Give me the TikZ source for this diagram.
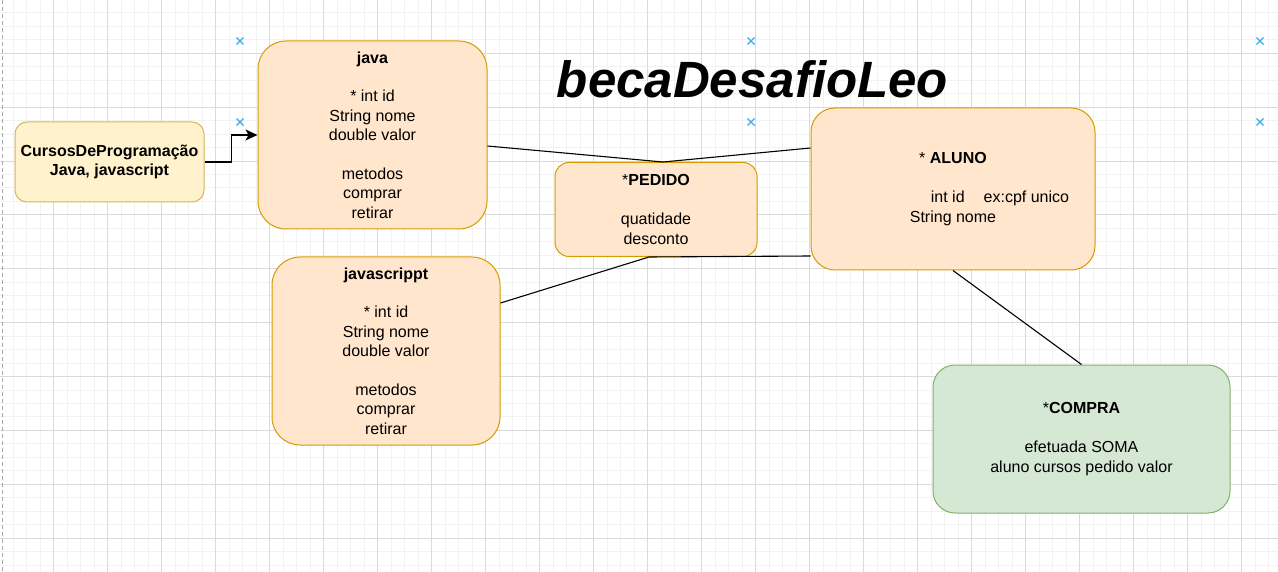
\documentclass[tikz,border=0pt]{standalone}
\usepackage{fontspec}
\setmainfont{Liberation Sans}
\usetikzlibrary{arrows.meta}
\definecolor{orfill}{HTML}{FFE6CC}
\definecolor{orline}{HTML}{D79B00}
\definecolor{yefill}{HTML}{FFF2CC}
\definecolor{yeline}{HTML}{D6B656}
\definecolor{grfill}{HTML}{D5E8D4}
\definecolor{grline}{HTML}{82B366}
\definecolor{gridminor}{HTML}{F2F2F2}
\definecolor{gridmajor}{HTML}{DADADA}
\definecolor{markblue}{HTML}{35AEEF}
\begin{document}
\begin{tikzpicture}[x=1pt,y=-1pt,
  box/.style={draw, line width=1pt, align=center, inner sep=0pt,
    font=\fontsize{16}{19.4}\selectfont},
  orbox/.style={box, fill=orfill, draw=orline},
  conn/.style={draw=black, line width=1.1pt},
  bluemark/.style={draw=markblue, line width=1.2pt},
  minorline/.style={draw=gridminor, line width=1pt},
  majorline/.style={draw=gridmajor, line width=1pt}]
\useasboundingbox (0,0) rectangle (1278,572);
\fill[white] (0,0) rectangle (1278,572);
% grid
\foreach \i in {0,...,95} {
  \draw[minorline] ({\i*13.5-0.5},0) -- ({\i*13.5-0.5},572);
}
\foreach \i in {0,...,43} {
  \draw[minorline] (0,{\i*13.47-0.6}) -- (1278,{\i*13.47-0.6});
}
\foreach \i in {0,...,24} {
  \draw[majorline] ({\i*54-0.5},0) -- ({\i*54-0.5},572);
}
\foreach \i in {0,...,11} {
  \draw[majorline] (0,{\i*53.88-0.6}) -- (1278,{\i*53.88-0.6});
}
\draw[draw=gray!70, line width=1pt, dash pattern=on 4pt off 3pt] (2,0) -- (2,572);
% blue markers
\foreach \mx/\my in {240/41, 751/41, 1260/41, 240/122, 751/122, 1260/122} {
  \draw[bluemark] (\mx-3.5,\my-3.5) -- (\mx+3.5,\my+3.5);
  \draw[bluemark] (\mx-3.5,\my+3.5) -- (\mx+3.5,\my-3.5);
}
% title
\node[anchor=base, font=\fontsize{51}{60}\selectfont\bfseries\itshape] (title) at (752.5,98) {becaDesafioLeo};
% boxes
\node[box, fill=yefill, draw=yeline, rounded corners=12pt, minimum width=189pt, minimum height=80pt]
  (cursos) at (109.5,162) {\textbf{CursosDeProgramação}\\\textbf{Java, javascript}};
\node[orbox, rounded corners=28pt, minimum width=229pt, minimum height=188pt]
  (java) at (372.5,135) {\textbf{java}\\[19.4pt]* int id\\String nome\\double valor\\[19.4pt]metodos\\comprar\\retirar};
\node[orbox, rounded corners=28pt, minimum width=228pt, minimum height=188pt]
  (jscript) at (386,351) {\textbf{javascrippt}\\[19.4pt]* int id\\String nome\\double valor\\[19.4pt]metodos\\comprar\\retirar};
\node[orbox, rounded corners=14pt, minimum width=202pt, minimum height=94pt]
  (pedido) at (656,209.5) {*\textbf{PEDIDO}\\[19.4pt]quatidade\\desconto};
\node[orbox, rounded corners=24pt, minimum width=284pt, minimum height=162pt]
  (aluno) at (953,189) {* \textbf{ALUNO}\\[20pt]\hspace*{94pt}int id\hspace{19pt}ex:cpf unico\\String nome};
\node[box, fill=grfill, draw=grline, rounded corners=22pt, minimum width=297pt, minimum height=148pt]
  (compra) at (1081.5,439) {*\textbf{COMPRA}\\[19.4pt]efetuada SOMA\\aluno cursos pedido valor};
% connectors
\draw[conn, -{Stealth[length=12pt,width=11pt,inset=3pt]}] (cursos.east) -- ++(27,0) |- (java.west);
\draw[conn] (java.east |- 0,146) -- ([xshift=7pt]pedido.north);
\draw[conn] ([xshift=7pt]pedido.north) -- (aluno.west |- 0,148);
\draw[conn] (aluno.west |- 0,256) -- ([xshift=-7pt]pedido.south);
\draw[conn] ([xshift=-7pt]pedido.south) -- (jscript.east |- 0,303);
\draw[conn] (aluno.south) -- (compra.north);
\end{tikzpicture}
\end{document}
